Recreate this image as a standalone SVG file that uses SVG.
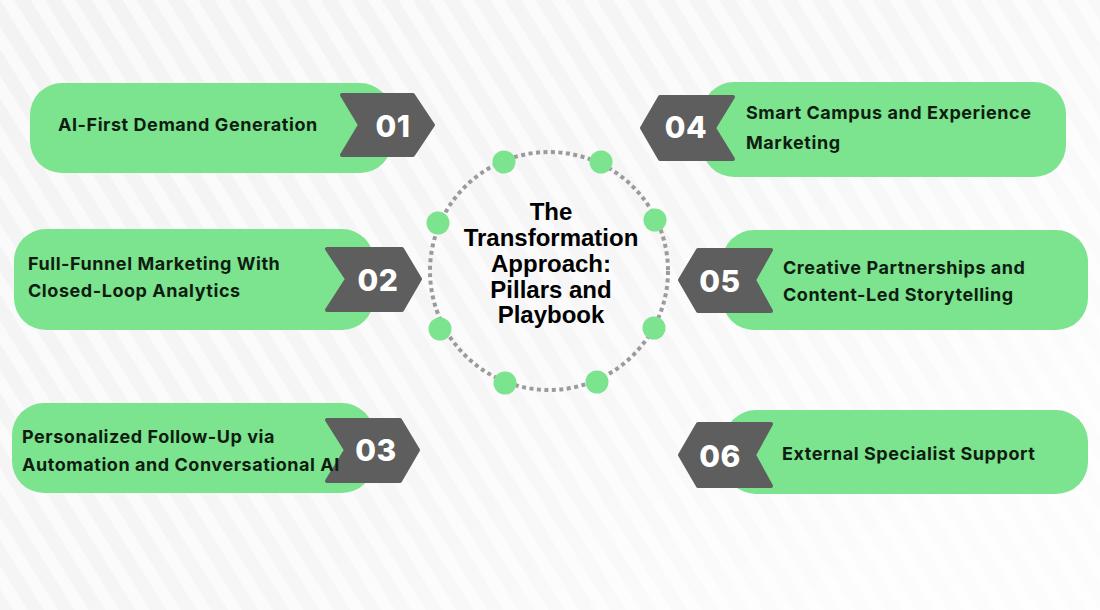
<svg xmlns="http://www.w3.org/2000/svg" width="1100" height="610" viewBox="0 0 1100 610">
  <defs>
    <pattern id="stripes" width="26" height="26" patternUnits="userSpaceOnUse" patternTransform="rotate(-32)">
      <rect x="0" y="0" width="12" height="26" fill="#ffffff"/>
    </pattern>
    <linearGradient id="fade" x1="0" y1="0" x2="1" y2="0.6">
      <stop offset="0" stop-color="#ffffff" stop-opacity="0"/>
      <stop offset="0.6" stop-color="#ffffff" stop-opacity="0.25"/>
      <stop offset="1" stop-color="#ffffff" stop-opacity="0.75"/>
    </linearGradient>
  </defs>
  <style>
    .box { fill: #7ce38f; }
    .chev { fill: #5e5e5e; stroke: #5e5e5e; stroke-width: 4; stroke-linejoin: round; }
    .num { font-family: Inter, "Liberation Sans", Arial, sans-serif; font-weight: 800; font-size: 30px; fill: #ffffff; text-anchor: middle; letter-spacing: 0.5px; }
    .lbl { font-family: Inter, "Liberation Sans", sans-serif; font-weight: 700; font-size: 18px; letter-spacing: 0.55px; fill: #0e1d0f; }
    .title { font-family: "Liberation Sans", Arial, sans-serif; font-weight: 700; font-size: 24px; fill: #000000; text-anchor: middle; }
    .dot { fill: #7ce38f; }
    .ring { fill: none; stroke: #9b9b9b; stroke-width: 4; stroke-dasharray: 4 3.5; }
  </style>

  <rect x="0" y="0" width="1100" height="610" fill="#f3f3f3"/>
  <rect x="0" y="0" width="1100" height="610" fill="url(#stripes)" opacity="0.6"/>
  <rect x="0" y="0" width="1100" height="610" fill="url(#fade)"/>

  <g id="connectors">
    <circle class="ring" cx="549" cy="271" r="119"/>
  </g>

  <g id="center">
    <circle class="dot" cx="504" cy="162" r="11.5"/>
    <circle class="dot" cx="601" cy="162" r="11.5"/>
    <circle class="dot" cx="438" cy="223" r="11.5"/>
    <circle class="dot" cx="655" cy="220" r="11.5"/>
    <circle class="dot" cx="440" cy="329" r="11.5"/>
    <circle class="dot" cx="654" cy="328" r="11.5"/>
    <circle class="dot" cx="505" cy="383" r="11.5"/>
    <circle class="dot" cx="597" cy="382" r="11.5"/>
    <text class="title" x="551" y="220">The</text>
    <text class="title" x="551" y="246">Transformation</text>
    <text class="title" x="551" y="272">Approach:</text>
    <text class="title" x="551" y="298">Pillars and</text>
    <text class="title" x="551" y="323">Playbook</text>
  </g>

  <g id="node-01">
    <rect class="box" x="30" y="83" width="362" height="90" rx="32"/>
    <polygon class="chev" points="342,95 413,95 433,125 413,155 342,155 360,125"/>
    <text class="num" x="393" y="137">01</text>
    <text class="lbl" x="58" y="131">AI-First Demand Generation</text>
  </g>

  <g id="node-02">
    <rect class="box" x="14" y="229" width="360" height="101" rx="32"/>
    <polygon class="chev" points="327,249 402,249 420,279 402,310 327,310 347,279"/>
    <text class="num" x="378" y="291">02</text>
    <text class="lbl" x="28" y="270">Full-Funnel Marketing With</text>
    <text class="lbl" x="28" y="297">Closed-Loop Analytics</text>
  </g>

  <g id="node-03">
    <rect class="box" x="12" y="403" width="362" height="90" rx="32"/>
    <polygon class="chev" points="327,420 400,420 418,450 400,481 327,481 346,450"/>
    <text class="num" x="376" y="461">03</text>
    <text class="lbl" x="22" y="443">Personalized Follow-Up via</text>
    <text class="lbl" x="22" y="471">Automation and Conversational AI</text>
  </g>

  <g id="node-04">
    <rect class="box" x="702" y="82" width="364" height="95" rx="32"/>
    <polygon class="chev" points="733,97 660,97 642,128 660,159 733,159 714,128"/>
    <text class="num" x="686" y="138">04</text>
    <text class="lbl" x="746" y="119">Smart Campus and Experience</text>
    <text class="lbl" x="746" y="149">Marketing</text>
  </g>

  <g id="node-05">
    <rect class="box" x="722" y="230" width="366" height="100" rx="32"/>
    <polygon class="chev" points="771,250 698,250 680,280 698,311 771,311 754,280"/>
    <text class="num" x="720" y="292">05</text>
    <text class="lbl" x="783" y="274">Creative Partnerships and</text>
    <text class="lbl" x="783" y="301">Content-Led Storytelling</text>
  </g>

  <g id="node-06">
    <rect class="box" x="724" y="410" width="364" height="84" rx="32"/>
    <polygon class="chev" points="771,424 698,424 680,455 698,486 771,486 754,455"/>
    <text class="num" x="720" y="467">06</text>
    <text class="lbl" x="782" y="460">External Specialist Support</text>
  </g>
</svg>
